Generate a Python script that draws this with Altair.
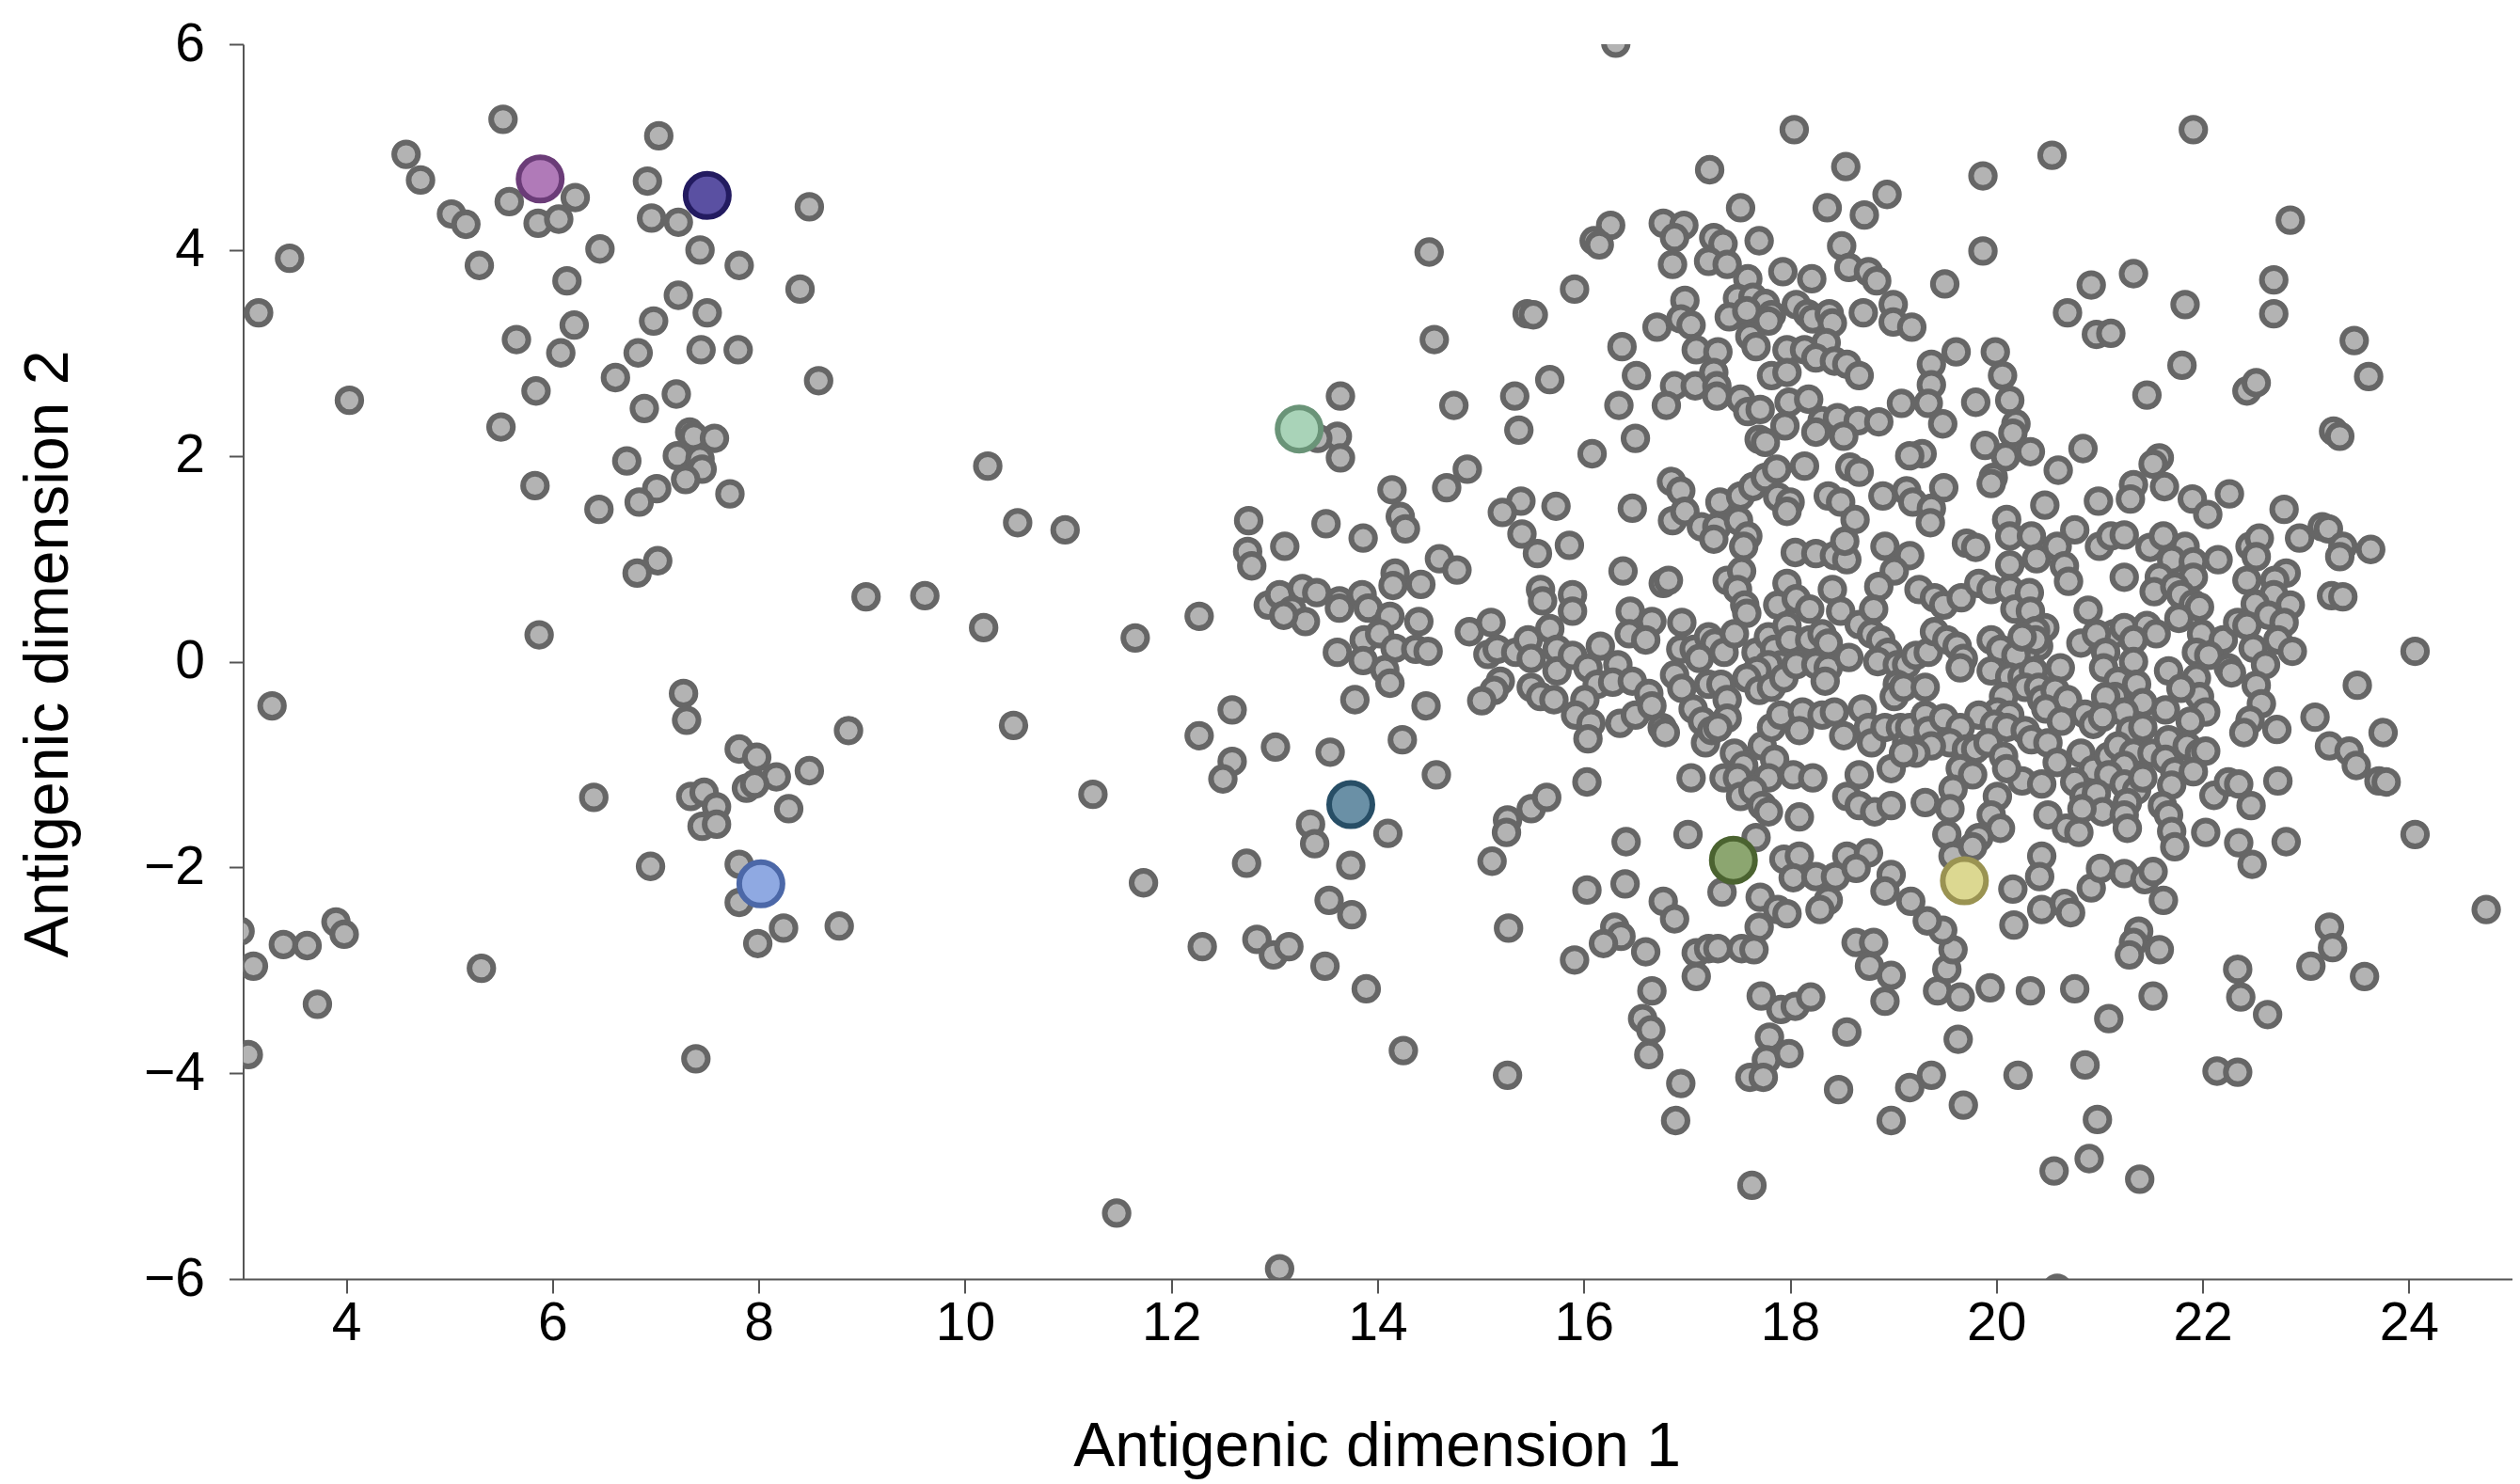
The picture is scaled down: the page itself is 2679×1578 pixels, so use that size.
import altair as alt
import pandas as pd

# ---- data (antigenic map coordinates) ----
left_cluster = [
    (5.52,5.27),(7.03,5.11),(4.58,4.93),(4.72,4.68),(6.92,4.67),(5.58,4.47),(6.22,4.51),(5.02,4.35),
    (5.16,4.25),(5.86,4.26),(6.06,4.30),(6.96,4.31),(7.22,4.27),(8.49,4.42),(6.46,4.01),(7.43,4.00),
    (7.81,3.85),(5.29,3.85),(3.45,3.92),(6.14,3.70),(7.22,3.56),(7.50,3.39),(6.98,3.31),(8.40,3.62),
    (3.15,3.39),(6.21,3.27),(5.65,3.13),(6.08,3.00),(6.83,3.00),(7.44,3.03),(7.80,3.03),(8.58,2.73),
    (6.61,2.76),(7.20,2.60),(5.84,2.63),(6.89,2.46),(4.03,2.54),(5.50,2.28),
    (7.33,2.23),(7.37,2.19),(7.57,2.17),(7.21,2.00),(7.43,1.97),(7.45,1.87),(7.29,1.77),(7.01,1.68),
    (6.84,1.55),(7.72,1.63),(6.72,1.95),(6.45,1.48),(5.83,1.71),(7.02,0.98),(6.82,0.86),(5.87,0.26),
    (10.22,1.90),(10.51,1.35),(10.97,1.28),(9.04,0.63),(9.61,0.64),(10.18,0.33),(11.65,0.23),
    (3.28,-0.43),(7.27,-0.31),(7.30,-0.57),(8.87,-0.67),(10.47,-0.62),(6.40,-1.32),(7.34,-1.31),
    (7.47,-1.27),(7.59,-1.41),(7.45,-1.60),(7.59,-1.58),(7.81,-0.85),(7.98,-0.93),(8.17,-1.12),
    (7.88,-1.23),(7.96,-1.19),(8.49,-1.06),(8.29,-1.43),(11.24,-1.29),(6.95,-1.99),(7.81,-1.97),
    (7.81,-2.34),(8.24,-2.59),(7.99,-2.74),(8.78,-2.57),(11.73,-2.15),(2.97,-2.62),(3.39,-2.75),
    (3.62,-2.76),(3.90,-2.53),(3.98,-2.65),(3.10,-2.96),(5.31,-2.98),(3.72,-3.33),(3.05,-3.82),
    (7.39,-3.86),(11.47,-5.36),
]

mid_upper = [
    (16.31,6.01),(14.50,3.98),(16.26,4.24),(16.10,4.09),(16.15,4.05),(15.91,3.62),(15.45,3.38),
    (15.51,3.37),(14.55,3.13),(16.37,3.06),(16.51,2.78),(15.67,2.74),(15.33,2.58),(14.74,2.49),
    (15.37,2.25),(16.34,2.49),(16.50,2.17),(13.64,2.58),(13.61,2.19),(13.42,2.17),(16.08,2.02),
]

mid_center = [
    (13.64,1.98),(14.87,1.87),(14.67,1.69),(14.14,1.67),(12.75,1.37),(13.50,1.34),(13.86,1.20),
    (14.22,1.41),(14.27,1.29),(15.39,1.56),(15.21,1.45),(15.73,1.51),(15.40,1.24),(15.55,1.05),
    (15.86,1.13),(16.38,0.88),(16.47,1.49),(12.74,1.07),(12.78,0.93),(13.10,1.12),(14.60,1.00),
    (14.77,0.89),(14.17,0.86),(14.15,0.74),(14.42,0.75),(12.27,0.44),
    (12.94,0.55),(13.05,0.65),(13.27,0.71),(13.41,0.67),(13.17,0.50),(13.30,0.39),(13.09,0.45),
    (13.63,0.59),(13.63,0.52),(13.85,0.65),(13.91,0.52),(14.12,0.44),(14.40,0.39),(13.87,0.21),
    (14.02,0.27),(13.61,0.09),(13.86,0.01),(14.17,0.13),(14.37,0.12),(14.49,0.10),(14.07,-0.08),
    (14.12,-0.21),(13.78,-0.37),(14.47,-0.43),(12.59,-0.47),(12.27,-0.72),(13.01,-0.83),(13.54,-0.88),
    (14.24,-0.76),(12.59,-0.97),(12.50,-1.14),(14.57,-1.10),(13.35,-1.58),(13.39,-1.77),(14.10,-1.67),
    (12.73,-1.96),(13.74,-1.98),(15.11,-1.94),(15.26,-1.54),(15.25,-1.66),(15.49,-1.43),(15.64,-1.32),
    (16.03,-1.17),(16.41,-1.75),
    (14.89,0.29),(15.10,0.38),(15.07,0.07),(15.16,0.12),(15.34,0.09),(15.46,0.21),(15.49,0.03),
    (15.58,0.70),(15.60,0.59),(15.89,0.65),(15.89,0.49),(15.67,0.32),(15.74,0.12),(15.74,-0.09),
    (15.89,0.06),(16.04,-0.06),(16.16,0.15),(16.33,-0.03),(16.13,-0.22),(16.28,-0.20),(16.45,0.49),
    (16.44,0.27),(16.47,-0.19),(15.19,-0.19),(15.13,-0.28),(15.01,-0.38),(15.49,-0.25),(15.58,-0.34),
    (15.71,-0.37),(16.01,-0.37),(15.92,-0.52),(16.07,-0.60),(16.04,-0.75),(16.35,-0.60),(16.50,-0.52),
]

mid_lower = [
    (12.30,-2.77),(12.83,-2.70),(12.99,-2.85),(13.14,-2.77),(13.53,-2.32),(13.75,-2.46),(13.49,-2.96),
    (13.89,-3.18),(14.25,-3.78),(15.27,-2.59),(15.26,-4.02),(13.05,-5.90),(16.03,-2.22),(16.40,-2.16),
    (16.30,-2.58),(16.36,-2.67),(16.19,-2.74),(15.91,-2.90),
]

core_upper = [
    (18.04,5.17),(17.22,4.78),(18.54,4.81),(19.87,4.72),(20.54,4.92),(17.52,4.41),(18.36,4.41),
    (18.72,4.34),(18.94,4.54),(16.77,4.26),(16.97,4.24),(16.88,4.12),(17.26,4.12),(17.35,4.06),
    (17.70,4.09),(16.86,3.86),(17.21,3.89),(17.39,3.86),(18.50,4.04),(19.87,3.99),(17.93,3.79),
    (18.21,3.72),(18.57,3.83),(18.76,3.79),(18.84,3.70),(17.59,3.72),(19.50,3.67),(16.98,3.51),
    (17.49,3.53),(17.64,3.54),(17.76,3.48),(17.82,3.37),(17.41,3.35),(17.58,3.41),(17.79,3.31),
    (18.06,3.47),(18.17,3.38),(18.22,3.33),(18.38,3.38),(18.41,3.29),(18.71,3.39),(19.00,3.47),
    (19.00,3.30),(19.18,3.25),(16.71,3.25),(16.94,3.33),(17.04,3.27),(17.61,3.16),(17.67,3.06),
    (18.35,3.10),(17.09,3.03),(17.30,3.01),
    (17.97,3.03),(18.14,3.03),(18.25,2.95),(18.43,2.92),(18.55,2.89),(18.67,2.78),(17.82,2.78),
    (17.97,2.81),(19.37,2.89),(19.61,3.01),(19.99,3.01),(20.06,2.78),
    (16.88,2.68),(17.08,2.68),(17.26,2.81),(17.29,2.68),(17.29,2.58),(17.52,2.55),(17.59,2.43),
    (17.71,2.45),(16.80,2.49),(17.99,2.52),(18.18,2.55),(19.37,2.69),(19.34,2.51),(19.08,2.51),
    (19.80,2.52),(20.13,2.54),(19.48,2.31),(20.19,2.31),(20.16,2.22),(17.95,2.29),(18.31,2.34),
    (18.46,2.37),(18.66,2.34),(18.86,2.33),(18.25,2.23),(18.52,2.19),(17.70,2.16),(17.76,2.13),
    (19.89,2.10),(20.33,2.04),(20.09,1.99),(19.28,2.02),(19.16,2.00),
]

right_upper = [
    (21.91,5.17),(22.85,4.29),(20.92,3.66),(21.33,3.77),(20.69,3.39),(20.97,3.18),(21.11,3.19),
    (21.83,3.47),(22.69,3.71),(22.69,3.38),(23.47,3.12),(23.61,2.77),(21.80,2.88),(21.46,2.59),
    (22.43,2.63),(22.52,2.71),(23.27,2.24),(23.33,2.19),(20.84,2.07),
]

core_center = [
    (16.85,1.75),(16.94,1.66),(17.32,1.55),(17.52,1.61),(17.64,1.70),(17.76,1.79),(17.87,1.87),
    (18.14,1.90),(17.88,1.60),(18.00,1.55),(17.97,1.46),(16.86,1.37),(16.98,1.46),(17.14,1.31),
    (17.29,1.31),(17.26,1.19),(17.50,1.37),(17.59,1.22),(17.55,1.12),(18.05,1.06),(18.25,1.05),
    (18.43,1.03),(18.55,0.99),(18.53,1.17),(18.37,1.61),(18.49,1.55),(18.63,1.38),(18.58,1.89),
    (18.67,1.84),(18.90,1.61),(19.13,1.66),(19.19,1.55),(19.37,1.49),(19.49,1.69),(19.36,1.35),
    (19.97,1.79),(19.95,1.73),(20.47,1.52),(18.92,1.12),(19.16,1.03),(19.01,0.88),(18.86,0.73),
    (19.71,1.15),(19.80,1.11),(20.10,1.38),(20.13,1.22),(20.34,1.22),(20.39,1.00),(20.13,0.94),
    (16.77,0.76),(16.82,0.79),(17.39,0.79),(17.53,0.88),(17.49,0.70),(17.56,0.55),(17.58,0.47),
    (17.97,0.76),(17.88,0.55),(18.06,0.61),(18.19,0.51),(18.41,0.70),(18.49,0.49),(18.67,0.36),
    (18.81,0.51),(19.25,0.70),(19.40,0.62),(19.49,0.55),(19.66,0.62),(19.83,0.76),(19.95,0.70),
    (20.13,0.70),(20.18,0.51),(20.32,0.67),(20.33,0.49),(20.47,0.33),(20.38,0.30),(20.41,0.15),
    (20.28,0.09),
    (16.66,0.39),(16.60,0.21),(16.95,0.38),(16.94,0.12),(17.07,0.12),(17.21,0.24),(17.27,0.18),
    (17.12,0.03),(17.36,0.09),(17.46,0.27),(17.67,0.09),(17.79,0.24),(17.85,0.12),(17.97,0.35),
    (18.00,0.21),(17.91,-0.03),(17.79,-0.03),(17.68,-0.09),(17.58,-0.16),(17.70,-0.28),(17.82,-0.25),
    (17.94,-0.16),(18.06,-0.03),(18.19,0.21),(18.31,0.27),(18.37,0.18),(18.25,-0.03),(18.37,-0.06),
    (18.34,-0.19),(18.57,0.04),(18.79,0.27),(18.88,0.21),(18.95,0.09),(18.85,0.00),(19.04,-0.03),
    (19.13,-0.03),(19.22,0.06),(19.34,0.09),(19.40,0.29),(19.52,0.21),(19.62,0.15),(19.68,0.03),
    (19.65,-0.06),(19.04,-0.22),(19.01,-0.34),(19.10,-0.25),(19.31,-0.25),(19.95,0.21),(20.04,0.12),
    (20.19,0.06),(20.38,0.21),(20.25,0.24),(19.95,-0.09),(20.13,-0.15),(20.25,-0.15),(20.36,-0.09),
    (20.28,-0.25),(20.07,-0.34),(20.01,-0.49),(20.13,-0.52),(20.41,-0.25),(20.44,-0.37),(19.83,-0.52),
    (19.98,-0.61),(20.10,-0.64),(20.28,-0.67),(20.34,-0.76),(20.50,-0.79),
    (16.63,-0.31),(16.66,-0.43),(16.76,-0.64),(16.79,-0.69),(16.88,-0.13),(16.95,-0.26),(17.06,-0.46),
    (17.15,-0.58),(17.18,-0.79),(17.24,-0.67),(17.21,-0.22),(17.33,-0.22),(17.39,-0.37),(17.39,-0.55),
    (17.30,-0.64),(17.46,-0.89),(17.55,-1.01),(17.36,-1.13),(17.49,-1.13),(17.73,-0.82),(17.82,-0.64),
    (17.91,-0.52),(18.12,-0.49),(18.09,-0.67),(18.31,-0.52),(18.43,-0.49),(18.52,-0.72),(17.85,-0.95),
    (17.79,-1.13),(18.03,-1.10),(18.22,-1.13),(17.52,-1.31),(17.64,-1.25),(17.73,-1.40),(17.79,-1.46),
    (17.04,-1.13),(17.01,-1.68),(17.67,-1.71),(18.09,-1.51),
    (18.70,-0.46),(18.76,-0.64),(18.79,-0.79),(18.92,-0.64),(19.07,-0.64),(19.13,-0.79),(19.16,-0.64),
    (19.31,-0.52),(19.34,-0.67),(19.49,-0.55),(19.65,-0.64),(19.55,-0.79),(19.37,-0.82),(19.22,-0.89),
    (18.98,-1.04),(19.10,-0.89),(18.67,-1.10),(18.55,-1.31),(18.67,-1.40),(18.82,-1.46),(18.98,-1.40),
    (19.71,-0.85),(19.80,-0.85),(19.92,-0.79),(20.07,-0.92),(20.25,-1.16),(20.10,-1.04),(19.65,-1.04),
    (19.77,-1.10),(19.58,-1.24),(19.55,-1.43),(19.52,-1.68),(19.58,-1.89),(19.31,-1.37),(20.01,-1.31),
    (19.95,-1.49),(20.04,-1.62),(19.83,-1.71),(19.77,-1.80),(20.44,-1.19),(20.50,-1.49),(20.44,-1.89),
    (17.94,-1.92),(18.09,-1.89),(18.55,-1.89),(18.76,-1.86),
]

right_center = [
    (20.60,1.86),(21.58,1.98),(21.52,1.92),(20.99,1.56),(21.33,1.72),(21.30,1.58),(21.63,1.70),
    (21.90,1.58),(22.05,1.43),(22.26,1.63),(22.79,1.48),(22.94,1.20),(23.16,1.31),(23.22,1.29),
    (23.36,1.12),(23.33,1.02),(23.63,1.09),(20.76,1.28),(20.59,1.12),(20.66,0.93),(20.70,0.78),
    (21.00,1.12),(21.11,1.22),(21.24,1.23),(21.24,0.82),(21.49,1.11),(21.62,1.22),(21.83,1.12),
    (21.70,0.99),(21.91,0.97),(21.91,0.82),(22.15,0.99),(22.46,1.12),(22.55,1.20),(22.52,1.02),
    (22.43,0.79),(22.81,0.86),(22.70,0.79),(22.69,0.65),(22.85,0.55),(22.51,0.56),(21.58,0.82),
    (21.53,0.68),(21.73,0.73),(21.79,0.65),(21.91,0.56),(21.97,0.53),(21.77,0.42),(20.89,0.50),
    (20.82,0.18),(21.99,0.27),(22.20,0.21),(22.34,0.38),(22.43,0.35),(22.49,0.13),(22.64,0.45),
    (22.79,0.38),(22.73,0.21),(22.87,0.10),(22.61,-0.03),(23.25,0.64),(23.36,0.63),(24.06,0.10),
    (23.50,-0.23),(23.09,-0.54),(23.75,-0.69),(23.23,-0.82),(23.42,-0.87),(23.49,-1.01),(23.71,-1.16),
    (23.78,-1.17),(24.06,-1.68),(22.81,-1.75),(22.73,-1.16),(22.52,-0.23),(22.57,-0.41),(22.46,-0.57),
    (22.40,-0.69),(22.72,-0.66),(21.94,0.09),(22.06,0.06),(22.25,-0.06),(22.28,-0.11),(21.67,-0.09),
    (21.94,-0.16),(21.97,-0.34),(22.03,-0.49),(21.88,-0.58),(21.79,-0.26),(21.64,-0.47),(21.14,0.27),
    (20.97,0.27),(21.24,0.33),(21.46,0.35),(21.55,0.27),(21.33,0.21),(21.06,0.09),(21.04,-0.06),
    (21.33,0.00),(21.18,-0.19),(21.36,-0.22),(21.15,-0.34),(21.06,-0.34),(21.42,-0.40),(21.24,-0.49),
    (20.62,-0.06),(20.57,-0.28),(20.69,-0.37),(20.48,-0.46),(20.63,-0.58),(20.86,-0.51),(20.94,-0.61),
    (21.03,-0.54),(21.30,-0.67),(21.42,-0.64),(20.59,-0.98),(20.82,-0.89),(20.94,-1.05),(21.09,-0.92),
    (21.18,-0.82),(21.33,-0.89),(21.24,-1.01),(21.09,-1.10),(21.24,-1.19),(21.51,-0.89),(21.67,-0.76),
    (21.64,-0.95),(21.73,-1.07),(21.85,-0.82),(21.97,-0.89),(22.03,-0.87),(21.91,-1.07),(21.70,-1.20),
    (21.36,-1.25),(21.42,-1.13),(20.76,-1.17),(20.85,-1.31),(20.97,-1.28),(21.03,-1.46),(20.83,-1.43),
    (21.27,-1.37),(21.24,-1.49),(21.27,-1.62),(21.61,-1.40),(21.67,-1.49),(21.70,-1.65),(21.73,-1.80),
    (20.68,-1.62),(20.80,-1.66),(22.11,-1.30),(22.25,-1.17),(22.35,-1.19),(22.47,-1.40),(22.03,-1.66),
    (22.35,-1.76),(22.48,-1.97),
]

core_lower = [
    (16.77,-2.33),(16.88,-2.50),(17.34,-2.24),(17.71,-2.29),(17.88,-2.41),(17.97,-2.45),(17.70,-2.58),
    (17.53,-2.79),(17.65,-2.80),(17.09,-2.83),(17.21,-2.79),(17.30,-2.79),(17.09,-3.06),(16.60,-2.82),
    (16.66,-3.20),(16.57,-3.47),(16.65,-3.58),(16.63,-3.82),(16.94,-4.10),(16.89,-4.46),(17.63,-5.09),
    (17.72,-3.25),(17.91,-3.38),(18.05,-3.35),(18.20,-3.26),(17.80,-3.65),(17.77,-3.87),(17.99,-3.81),
    (17.61,-4.04),(17.74,-4.04),(18.55,-3.60),(18.47,-4.16),(18.98,-4.46),(19.16,-4.14),(19.37,-4.02),
    (19.68,-4.31),(19.63,-3.67),(20.21,-4.02),(18.92,-3.30),(18.64,-2.73),(18.81,-2.73),(18.77,-2.96),
    (18.98,-3.05),(19.43,-3.20),(19.65,-3.26),(19.52,-2.99),(19.58,-2.80),(19.48,-2.61),(19.33,-2.52),
    (19.17,-2.33),(18.98,-2.07),(18.92,-2.23),(19.94,-3.17),(20.33,-3.20),(20.16,-2.21),(20.17,-2.56),
    (20.42,-2.09),(20.44,-2.41),(18.03,-2.10),(18.25,-2.09),(18.44,-2.09),(18.64,-2.01),(18.37,-2.32),
    (18.29,-2.41),
]

right_lower = [
    (20.92,-2.20),(20.66,-2.35),(20.72,-2.44),(21.24,-2.06),(21.01,-2.01),(21.44,-2.12),(21.52,-2.04),
    (21.62,-2.32),(21.38,-2.62),(21.33,-2.73),(21.29,-2.85),(21.58,-2.80),(20.76,-3.18),(21.52,-3.25),
    (21.09,-3.47),(20.86,-3.92),(20.98,-4.45),(20.90,-4.83),(20.56,-4.95),(21.39,-5.03),(22.34,-2.99),
    (22.37,-3.26),(22.63,-3.43),(22.14,-3.98),(22.34,-3.99),(23.23,-2.58),(23.26,-2.78),(23.05,-2.96),
    (23.57,-3.06),(24.75,-2.41),(20.59,-6.09),
]

# highlighted strains
hl_ids = ["A", "B", "C", "D", "E", "F", "G"]
hl_x = [5.88, 7.50, 13.24, 13.74, 8.02, 17.45, 19.69]
hl_y = [4.69, 4.53, 2.26, -1.39, -2.16, -1.93, -2.13]
hl_fill = ["#b07ab8", "#5a50a2", "#a9d3b8", "#6a90a6", "#8fa9e2", "#8ca670", "#dcd891"]
hl_stroke = ["#6b3c78", "#231b60", "#6a9478", "#274e66", "#4c68a8", "#4b6330", "#9a9352"]

groups = [left_cluster, mid_upper, mid_center, mid_lower, core_upper, right_upper,
          core_center, right_center, core_lower, right_lower]
rows = [p for g in groups for p in g]
gray_df = pd.DataFrame(rows, columns=["x", "y"])
hl_df = pd.DataFrame({"x": hl_x, "y": hl_y, "id": hl_ids})

FONT = "Liberation Sans"
xscale = alt.Scale(domain=[3, 25], nice=False, zero=False)
yscale = alt.Scale(domain=[-6, 6], nice=False, zero=False)

xaxis = alt.Axis(
    values=list(range(4, 25, 2)), format="d", title="Antigenic dimension 1", grid=False,
    domainColor="#555555", domainWidth=2, tickColor="#555555", tickWidth=2, tickSize=15,
    labelFont=FONT, labelFontSize=57, labelColor="#000000", labelPadding=4,
    titleFont=FONT, titleFontSize=66, titleFontWeight="normal", titleColor="#000000",
    titleX=1205, titleY=198, titleBaseline="alphabetic", titleAlign="center",
)
yaxis = alt.Axis(
    values=list(range(-6, 7, 2)), format="d", title="Antigenic dimension 2", grid=False,
    domainColor="#555555", domainWidth=2, tickColor="#555555", tickWidth=2, tickSize=15,
    labelFont=FONT, labelFontSize=57, labelColor="#000000", labelPadding=26,
    titleFont=FONT, titleFontSize=66, titleFontWeight="normal", titleColor="#000000",
    titleX=-207, titleY=648, titleAngle=270, titleBaseline="middle", titleAlign="center",
)

gray = alt.Chart(gray_df).mark_circle(
    size=640, fill="#b3b3b3", stroke="#666666", strokeWidth=6, opacity=1, fillOpacity=1,
    clip=True,
).encode(
    x=alt.X("x:Q", scale=xscale, axis=xaxis),
    y=alt.Y("y:Q", scale=yscale, axis=yaxis),
)

hl = alt.Chart(hl_df).mark_circle(
    size=2116, strokeWidth=6, opacity=1, fillOpacity=1, clip=True,
).encode(
    x=alt.X("x:Q", scale=xscale),
    y=alt.Y("y:Q", scale=yscale),
    fill=alt.Fill("id:N", scale=alt.Scale(domain=hl_ids, range=hl_fill), legend=None),
    stroke=alt.Stroke("id:N", scale=alt.Scale(domain=hl_ids, range=hl_stroke), legend=None),
)

chart = alt.layer(gray, hl).properties(
    width=2412, height=1313,
    autosize=alt.AutoSizeParams(type="none"),
    padding={"left": 258.5, "top": 47, "right": 8.5, "bottom": 218},
    background="white",
).configure_view(stroke=None)

chart.save("out.html", embed_options={"renderer": "svg", "actions": False})
